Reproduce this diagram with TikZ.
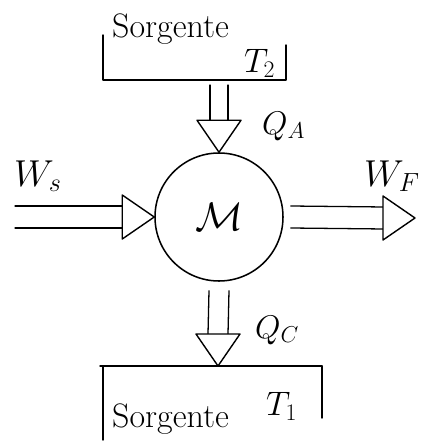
\RequirePackage{fix-cm}
\documentclass[tikz,border=0pt]{standalone}
\usetikzlibrary{calc}

\begin{document}
\begin{tikzpicture}[
    x=0.03cm, y=-0.03cm,
    wall/.style   = {line width=1.2pt, line cap=round, line join=round},
    rail/.style   = {line width=1.1pt, line cap=round},
    lbl/.style    = {inner sep=0pt, anchor=base west},
    word/.style   = {lbl, font=\fontsize{29}{31}\selectfont},
    qty/.style    = {lbl, font=\fontsize{28}{30}\selectfont},
    work/.style   = {lbl, font=\fontsize{32}{34}\selectfont},
    pics/openhead/.style = {code={
        \draw[line width=1.2pt, line join=round, fill=white]
            (-32,-22) -- (0,0) -- (-32,22) -- cycle;}},
]
\useasboundingbox (0,0) rectangle (431,447);

%% Upper source
\draw[wall] (103,35) -- (103,80) -- (286,80) -- (286,45);
\coordinate (topbase) at (219,80);
\node[word] (srctop) at (112,37) {Sorgente};
\node[word] (ttop)   at (244,72) {$T_2$};

%% Engine
\node[circle, draw, line width=1.3pt, minimum size=3.84cm, inner sep=0pt,
      font=\fontsize{34}{36}\selectfont] (eng) at (219,217) {$\mathcal{M}$};

%% Lower source
\draw[wall] (100,366) -- (322,366);
\draw[wall] (103,366) -- (103,440);
\draw[wall] (322,366) -- (322,418);
\coordinate (botbase) at (218,366);
\node[word] (srcbot) at (112,427) {Sorgente};
\node[word] (tbot)   at (266,415) {$T_1$};

%% Heat in
\draw[rail] ($(topbase)+(-9,5)$) -- ($(eng.north)+(-9,-30)$);
\draw[rail] ($(topbase)+(9,5)$)  -- ($(eng.north)+(9,-30)$);
\pic[rotate=-90] at (eng.north) {openhead};
\node[qty] (qa) at (262,134) {$Q_A$};

%% Heat out
\draw[rail] ($(eng.south)+(-10,9)$) -- ($(botbase)+(-10,-32)$);
\draw[rail] ($(eng.south)+(10,9)$)  -- ($(botbase)+(10,-32)$);
\pic[rotate=-90] at (botbase) {openhead};
\node[qty] (qc) at (255,338) {$Q_C$};

%% Work in
\coordinate (wsstart) at (15,217);
\draw[rail] ($(wsstart)+(0,-11)$) -- ($(eng.west)+(-30,-11)$);
\draw[rail] ($(wsstart)+(0,11)$)  -- ($(eng.west)+(-30,11)$);
\pic at (eng.west) {openhead};
\node[work] (ws) at (14,186) {$W_s$};

%% Work out
\coordinate (wfend) at (415,218);
\draw[rail] ($(eng.east)+(7,-11)$) -- ($(wfend)+(-30,-11)$);
\draw[rail] ($(eng.east)+(7,11)$)  -- ($(wfend)+(-30,11)$);
\pic at (wfend) {openhead};
\node[work] (wf) at (364,186) {$W_F$};

\end{tikzpicture}
\end{document}
